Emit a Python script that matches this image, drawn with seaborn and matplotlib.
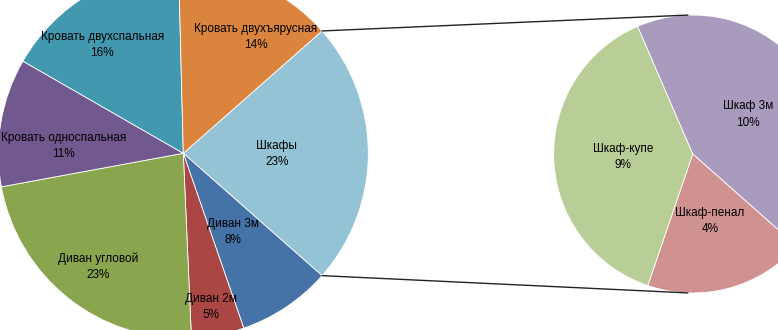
import matplotlib
matplotlib.use("Agg")
import matplotlib.pyplot as plt
import seaborn as sns
import numpy as np

# ---- data ----
main_labels = ["Шкафы", "Диван 3м", "Диван 2м", "Диван угловой",
               "Кровать односпальная", "Кровать двухспальная", "Кровать двухъярусная"]
main_values = [23.0, 8.2, 4.6, 22.8, 11.2, 16.3, 13.9]
sub_labels = ["Шкаф 3м", "Шкаф-пенал", "Шкаф-купе"]
sub_values = [9.9, 4.3, 8.8]

# ---- style ----
main_colors = ["#93C3D5", "#4572A7", "#AA4643", "#89A54E", "#71588F", "#4198AF", "#DB843D"]
sub_colors = ["#A99BBD", "#D09291", "#B9CD96"]

sns.set_theme(style="white")
plt.rcParams["font.family"] = ["Liberation Sans", "DejaVu Sans"]

W, H = 778, 330
fig = plt.figure(figsize=(W / 100, H / 100), dpi=100)
ax = fig.add_axes([0, 0, 1, 1])

main_c = (183.3, H - 153.3)
main_r = 185
sub_c = (692.7, H - 154)
sub_r = 139

share = main_values[0] / sum(main_values)
start1 = 180 * share
wp = dict(edgecolor="white", linewidth=0.6)
ax.pie(main_values, colors=main_colors, startangle=start1, counterclock=False,
       center=main_c, radius=main_r, wedgeprops=wp, frame=True)
ax.pie(sub_values, colors=sub_colors, startangle=113.4, counterclock=False,
       center=sub_c, radius=sub_r, wedgeprops=wp, frame=True)

# label anchor positions (pixel coords, layout only)
main_pos = [(276.7, 154), (233.3, 231.7), (210.7, 306.7), (98.3, 266.7),
            (63.3, 145.7), (102.3, 45), (255.7, 37)]
sub_pos = [(748.3, 114.5), (710, 221), (623.3, 157)]

for name, v, (px, py) in zip(main_labels, main_values, main_pos):
    ax.text(px, H - py, f"{name}\n{v:.0f}%", ha="center", va="center",
            fontsize=8.5, color="black", linespacing=1.45)
for name, v, (px, py) in zip(sub_labels, sub_values, sub_pos):
    ax.text(px, H - py, f"{name}\n{v:.0f}%", ha="center", va="center",
            fontsize=8.5, color="black", linespacing=1.45)

# connector lines
a1 = np.deg2rad(start1)
a2 = np.deg2rad(-start1)
p_top = (main_c[0] + main_r * np.cos(a1), main_c[1] + main_r * np.sin(a1))
p_bot = (main_c[0] + main_r * np.cos(a2), main_c[1] + main_r * np.sin(a2))
q_top = (sub_c[0] + sub_r * np.cos(np.deg2rad(92)), sub_c[1] + sub_r * np.sin(np.deg2rad(92)))
q_bot = (sub_c[0] + sub_r * np.cos(np.deg2rad(268)), sub_c[1] + sub_r * np.sin(np.deg2rad(268)))
ax.plot([p_top[0], q_top[0]], [p_top[1], q_top[1]], color="#222222", lw=1)
ax.plot([p_bot[0], q_bot[0]], [p_bot[1], q_bot[1]], color="#222222", lw=1)

ax.set_xlim(0, W)
ax.set_ylim(0, H)
ax.set_aspect("equal", adjustable="box")
ax.axis("off")

fig.savefig("out.png", dpi=100)
